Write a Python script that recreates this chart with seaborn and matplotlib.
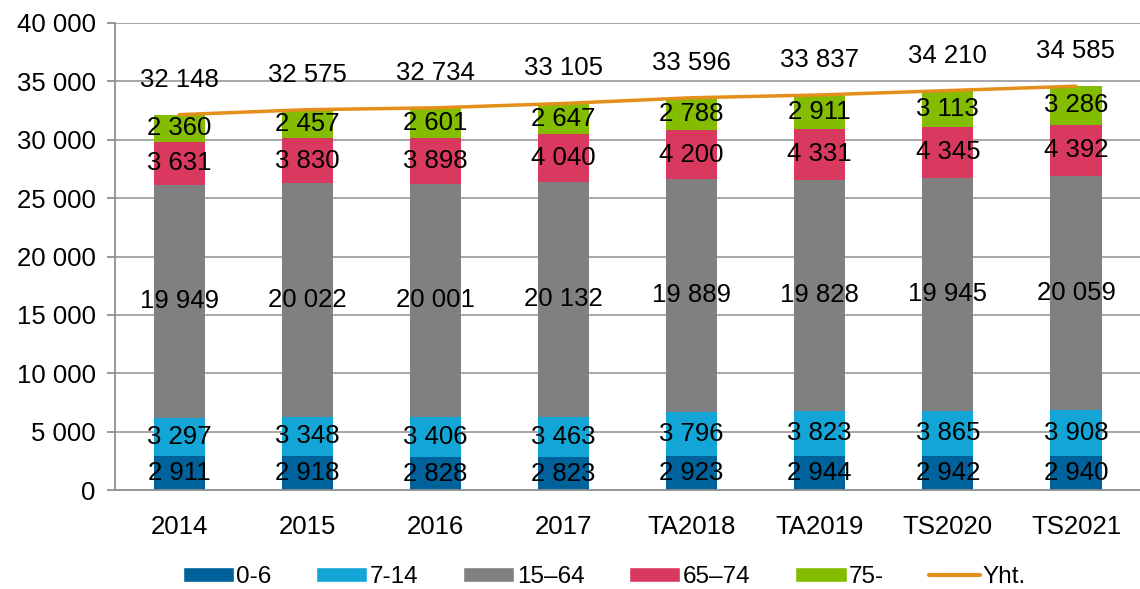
import numpy as np
import pandas as pd
import seaborn as sns
from matplotlib import pyplot as plt
from matplotlib.patches import Patch
from matplotlib.lines import Line2D
from matplotlib.ticker import FuncFormatter

years = ["2014", "2015", "2016", "2017", "TA2018", "TA2019", "TS2020", "TS2021"]
age_0_6 = [2911, 2918, 2828, 2823, 2923, 2944, 2942, 2940]
age_7_14 = [3297, 3348, 3406, 3463, 3796, 3823, 3865, 3908]
age_15_64 = [19949, 20022, 20001, 20132, 19889, 19828, 19945, 20059]
age_65_74 = [3631, 3830, 3898, 4040, 4200, 4331, 4345, 4392]
age_75 = [2360, 2457, 2601, 2647, 2788, 2911, 3113, 3286]
groups = ["0-6", "7-14", "15–64", "65–74", "75-"]
colors = ["#00629B", "#12A5D6", "#808080", "#DA395F", "#84BD00"]
line_color = "#E48F1B"

sns.set_theme(style="white")
plt.rcParams["font.family"] = ["Liberation Sans", "DejaVu Sans"]

df = pd.DataFrame({"year": years, "0-6": age_0_6, "7-14": age_7_14, "15–64": age_15_64,
                   "65–74": age_65_74, "75-": age_75})
cum = df[groups].cumsum(axis=1)
total = cum["75-"]

fig = plt.figure(figsize=(11.4, 5.89), dpi=100)
ax = fig.add_axes([0.101, 0.168, 0.899, 0.793])

# stacked bars: draw cumulative sums from the top segment down
for g, c in reversed(list(zip(groups, colors))):
    sns.barplot(x=df["year"], y=cum[g], color=c, width=0.4, saturation=1, ax=ax,
                edgecolor="none", zorder=2)

sns.lineplot(x=np.arange(len(years)), y=total.values, color=line_color, lw=2.5, ax=ax, zorder=3)

fs = 18.5
for i in range(len(years)):
    base = 0
    for g in groups:
        v = df[g][i]
        ax.text(i, base + v / 2, f"{v:,}".replace(",", " "), ha="center", va="center",
                fontsize=fs, color="black", zorder=4)
        base += v
    ax.text(i, total[i] + 3000, f"{total[i]:,}".replace(",", " "), ha="center", va="center",
            fontsize=fs, color="black", zorder=4)

ax.set_xlim(-0.5, len(years) - 0.5)
ax.set_ylim(0, 40000)
ax.set_yticks(range(0, 40001, 5000))
ax.yaxis.set_major_formatter(FuncFormatter(lambda v, p: f"{int(v):,}".replace(",", " ")))
ax.grid(axis="y", color="#A0A0A0", lw=1.3, zorder=0)
ax.set_axisbelow(True)
ax.set_xlabel("")
ax.set_ylabel("")
for s in ["top", "right"]:
    ax.spines[s].set_visible(False)
for s in ["left", "bottom"]:
    ax.spines[s].set_color("#909090")
    ax.spines[s].set_linewidth(1.3)
ax.tick_params(axis="y", left=True, length=6, width=1.3, color="#909090", labelsize=18.5,
               labelcolor="black", pad=8)
ax.tick_params(axis="x", bottom=False, labelsize=18.5, labelcolor="black", pad=12)

handles = [Patch(facecolor=c, label=g) for g, c in zip(groups, colors)]
handles.append(Line2D([], [], color=line_color, lw=3, label="Yht."))
fig.legend(handles=handles, loc="center", bbox_to_anchor=(0.53, 0.02), ncol=6, frameon=False,
           fontsize=17.5, handlelength=2.1, handleheight=0.6, handletextpad=0.1,
           columnspacing=1.85, labelcolor="black")

fig.savefig("out.png", dpi=100)
